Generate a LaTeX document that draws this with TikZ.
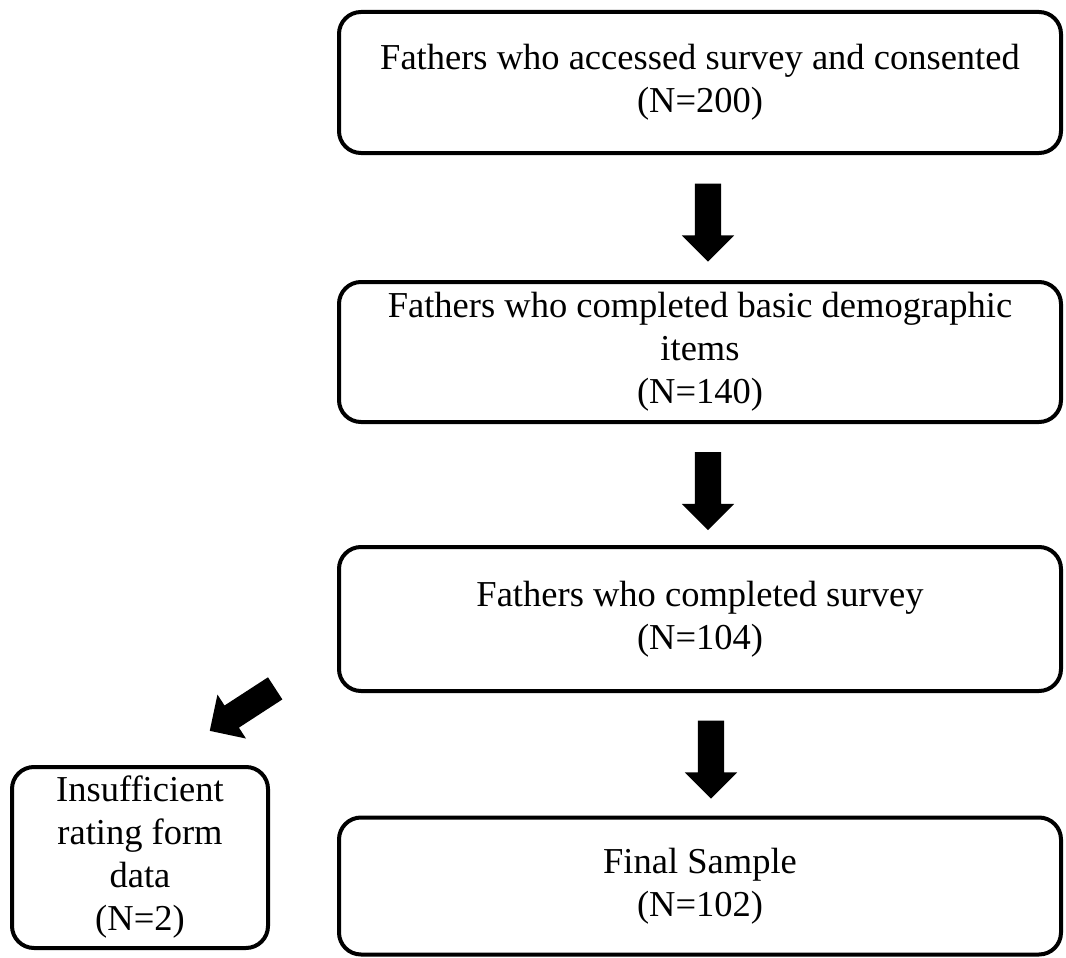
\documentclass[tikz,border=0pt]{standalone}
\usepackage{fontspec}
\setmainfont{Liberation Serif}
\usetikzlibrary{shapes.arrows}
\begin{document}
\begin{tikzpicture}[x=1pt,y=-1pt,
  stage/.style={draw=black, line width=4pt, rounded corners=22pt, align=center,
    inner sep=0pt, font=\fontsize{36.5}{43}\selectfont},
  blockarrow/.style={single arrow, fill=black, draw=none, inner sep=13pt,
    single arrow head extend=13pt, minimum height=78pt, anchor=center}]
\useasboundingbox (0,0) rectangle (1066,958);

% flow stages
\node[stage, minimum width=722pt, minimum height=141pt] (b1) at (700,82.5)
  {Fathers who accessed survey and consented\\(N=200)};
\node[stage, minimum width=722pt, minimum height=140pt] (b2) at (700,352)
  {Fathers who completed basic demographic\\items\\(N=140)};
\node[stage, minimum width=722pt, minimum height=144pt] (b3) at (700,619)
  {Fathers who completed survey\\(N=104)};
\node[stage, minimum width=722pt, minimum height=137pt] (b4) at (700,886)
  {Final Sample\\(N=102)};
\node[stage, minimum width=256pt, minimum height=181pt] (ex) at (140,857.5)
  {Insufficient\\rating form\\data\\(N=2)};

% block arrows between the stages
\node[blockarrow, rotate=-90] (a1) at (708,216) {};
\node[blockarrow, rotate=-90] (a2) at (708,484.5) {};
\node[blockarrow, rotate=-90] (a3) at (711,753) {};
\node[blockarrow, rotate=213] (a4) at (248,706) {};
\end{tikzpicture}
\end{document}
